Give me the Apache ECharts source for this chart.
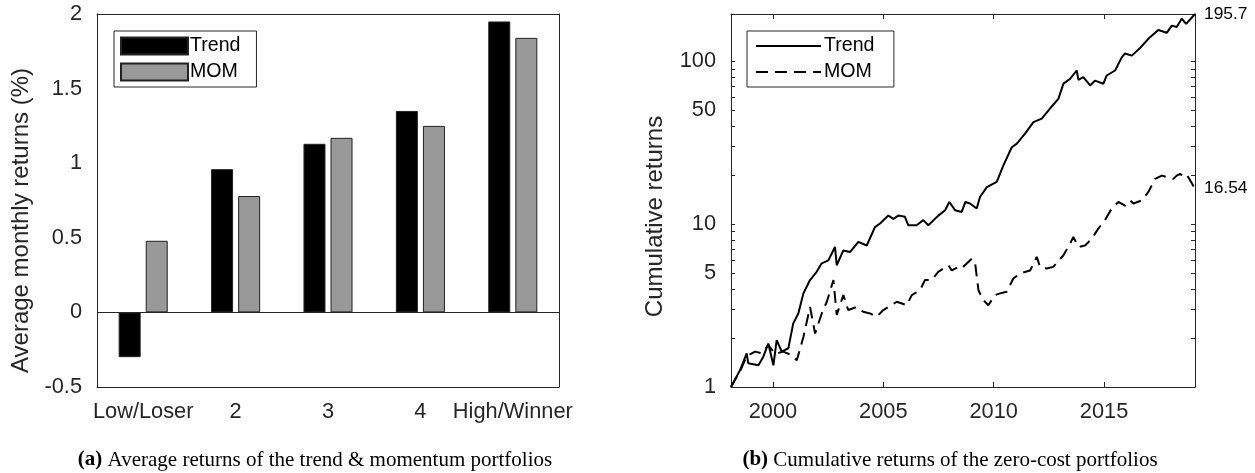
<!DOCTYPE html>
<html><head><meta charset="utf-8">
<script src="https://cdn.jsdelivr.net/npm/echarts@6.0.0/dist/echarts.min.js"></script>
<style>html,body{margin:0;padding:0;background:#fff}#c{width:1255px;height:473px}</style>
</head><body><div id="c"></div>
<script>
const categories = ['Low/Loser', '2', '3', '4', 'High/Winner'];
const trendAvg = [-0.30, 0.96, 1.13, 1.35, 1.95];
const momAvg = [0.48, 0.78, 1.17, 1.25, 1.84];

const trendYears = [1998.1,1998.51,1998.81,1998.88,1999.34,1999.56,1999.79,2000.02,2000.17,2000.40,2000.70,2000.77,2000.92,2001.15,2001.38,2001.68,2001.98,2002.21,2002.51,2002.81,2002.89,2003.19,2003.49,2003.87,2004.25,2004.62,2004.85,2005.23,2005.45,2005.68,2005.98,2006.13,2006.51,2006.81,2007.04,2007.49,2007.80,2007.99,2008.25,2008.55,2008.72,2008.93,2009.23,2009.38,2009.69,2010.14,2010.44,2010.82,2011.05,2011.42,2011.80,2012.18,2012.55,2012.93,2013.16,2013.46,2013.76,2013.84,2014.06,2014.37,2014.59,2014.97,2015.12,2015.50,2015.80,2015.95,2016.26,2016.63,2017.08,2017.46,2017.84,2018.07,2018.29,2018.52,2018.72,2019.05,2019.12];
const trendCum = [1.00,1.27,1.61,1.40,1.36,1.53,1.85,1.36,1.94,1.65,1.73,1.94,2.46,2.83,3.76,4.54,5.10,5.75,6.00,7.25,5.60,6.90,6.75,7.80,7.40,9.60,10.1,11.3,10.8,11.3,11.1,9.85,9.85,10.6,9.85,11.3,12.2,13.7,12.2,11.9,13.7,13.4,12.5,14.7,16.9,18.2,23.0,29.7,31.3,36.0,42.4,44.5,51.4,58.9,73.1,78.2,88.0,77.0,80.1,71.2,76.3,73.0,82.0,88.0,106,112,108.6,121,141,156,150,166,163,183,170,191,195.7];

const momYears = [1998.1,1998.51,1998.81,1999.19,1999.49,1999.79,2000.10,2000.46,2000.85,2001.08,2001.38,2001.68,2001.91,2002.21,2002.44,2002.74,2002.89,2003.19,2003.41,2003.79,2004.09,2004.40,2004.70,2005.00,2005.61,2006.06,2006.29,2006.66,2006.89,2007.19,2007.49,2007.95,2008.10,2008.40,2008.55,2009.01,2009.16,2009.31,2009.53,2009.76,2010.06,2010.29,2010.59,2010.89,2011.19,2011.65,2011.95,2012.10,2012.40,2012.70,2013.16,2013.38,2013.61,2013.84,2014.14,2014.44,2014.74,2015.04,2015.35,2015.65,2015.95,2016.18,2016.33,2016.71,2017.01,2017.31,2017.62,2017.84,2018.14,2018.29,2018.44,2018.62,2018.74,2018.90,2019.12];
const momCum = [1.00,1.25,1.55,1.65,1.61,1.81,1.60,1.65,1.57,1.46,2.03,3.10,2.13,2.83,3.34,4.54,2.77,3.67,2.97,3.10,2.90,2.83,2.70,2.97,3.34,3.18,3.67,3.93,4.54,4.54,5.10,5.60,5.20,5.47,5.35,6.15,5.75,3.93,3.42,3.18,3.67,3.76,3.85,4.64,4.98,5.20,6.30,5.47,5.35,5.47,6.45,7.25,8.34,7.25,7.40,8.15,9.40,10.6,12.5,13.7,13.0,14.0,13.4,14.0,15.8,19.0,19.9,19.5,19.0,19.9,20.4,19.7,20.2,18.6,16.54];

const yearTicks = [2000, 2005, 2010, 2015];
const logLabelTicks = [1, 5, 10, 50, 100];
const logTicks = [1,2,3,4,5,6,7,8,9,10,20,30,40,50,60,70,80,90,100];
const captionA = 'Average returns of the trend & momentum portfolios';
const captionB = 'Cumulative returns of the zero-cost portfolios';

const INK = '#262626';
const FONT = '"Liberation Sans", Arial, sans-serif';
const SERIF = '"Liberation Serif", "Times New Roman", serif';
const TICK_FS = 21.8;
const endVals = [momCum[momCum.length - 1], trendCum[trendCum.length - 1]];

const chart = echarts.init(document.getElementById('c'), null, {renderer: 'canvas'});

const axisLine = {show: true, onZero: false, lineStyle: {color: INK, width: 1}};
const lbl = {color: INK, fontSize: TICK_FS, fontFamily: FONT};
const tick = (len, extra) => Object.assign({inside: true, length: len, lineStyle: {color: INK}}, extra || {});

chart.setOption({
  animation: false,
  backgroundColor: '#fff',
  textStyle: {fontFamily: FONT},
  grid: [
    {left: 97, top: 14, width: 462, height: 373},
    {left: 731, top: 14, width: 464, height: 373}
  ],
  xAxis: [
    {type: 'category', gridIndex: 0, position: 'bottom', data: categories, boundaryGap: true,
     axisLine, axisTick: tick(5, {alignWithLabel: true, interval: 0}),
     axisLabel: Object.assign({margin: 14, interval: 0}, lbl), splitLine: {show: false}},
    {type: 'category', gridIndex: 0, position: 'top', data: categories, boundaryGap: true,
     axisLine, axisTick: tick(5, {alignWithLabel: true, interval: 0}),
     axisLabel: {show: false}, splitLine: {show: false}},
    {type: 'value', gridIndex: 1, position: 'bottom', min: 1998.1, max: 2019.12,
     axisLine, splitLine: {show: false},
     axisTick: tick(5, {customValues: yearTicks}),
     axisLabel: Object.assign({margin: 14, customValues: yearTicks, formatter: v => String(Math.round(v))}, lbl)},
    {type: 'value', gridIndex: 1, position: 'top', min: 1998.1, max: 2019.12,
     axisLine, splitLine: {show: false},
     axisTick: tick(5, {customValues: yearTicks}),
     axisLabel: {show: false}}
  ],
  yAxis: [
    {type: 'value', gridIndex: 0, position: 'left', min: -0.5, max: 2, interval: 0.5,
     axisLine, splitLine: {show: false},
     axisTick: tick(5),
     axisLabel: Object.assign({margin: 15}, lbl),
     name: 'Average monthly returns (%)', nameLocation: 'middle', nameGap: 64,
     nameTextStyle: {color: INK, fontSize: 24, fontFamily: FONT, padding: [0, 40, 0, 0]}},
    {type: 'value', gridIndex: 0, position: 'right', min: -0.5, max: 2, interval: 0.5,
     axisLine, splitLine: {show: false},
     axisTick: tick(5),
     axisLabel: {show: false}},
    {type: 'log', logBase: 10, gridIndex: 1, position: 'left', min: 1, max: 195.7,
     axisLine, splitLine: {show: false},
     axisTick: tick(4, {customValues: logTicks}),
     axisLabel: Object.assign({margin: 15, customValues: logLabelTicks, formatter: v => String(Math.round(v))}, lbl),
     name: 'Cumulative returns', nameLocation: 'middle', nameGap: 64,
     nameTextStyle: {color: INK, fontSize: 24, fontFamily: FONT, padding: [0, 32, 0, 0]}},
    {type: 'log', logBase: 10, gridIndex: 1, position: 'right', min: 1, max: 195.7,
     axisLine, splitLine: {show: false},
     axisTick: tick(4, {customValues: logTicks}),
     axisLabel: {color: '#000', fontSize: 17.4, fontFamily: FONT, margin: 9, customValues: endVals,
       formatter: v => {
         let best = endVals[0];
         endVals.forEach(e => { if (Math.abs(Math.log(e) - Math.log(v)) < Math.abs(Math.log(best) - Math.log(v))) best = e; });
         return String(best);
       }}}
  ],
  legend: [
    {data: ['Trend', 'MOM'], left: 114, top: 31, orient: 'vertical', icon: 'rect',
     itemWidth: 67, itemHeight: 17, itemGap: 6, padding: [5, 16, 5, 6],
     borderColor: INK, borderWidth: 1, backgroundColor: '#fff',
     textStyle: {color: '#000', fontSize: 19.6, fontFamily: FONT, padding: [0, 0, 0, -3]}, selectedMode: false},
    {data: ['Trend ', 'MOM '], left: 747, top: 31, orient: 'vertical',
     itemWidth: 65, itemHeight: 17, itemGap: 6, padding: [5, 14, 5, 8],
     itemStyle: {color: 'transparent', borderColor: 'transparent', borderWidth: 0, opacity: 0},
     borderColor: INK, borderWidth: 1, backgroundColor: '#fff',
     textStyle: {color: '#000', fontSize: 19.6, fontFamily: FONT, padding: [0, 0, 0, -2]}, selectedMode: false}
  ],
  series: [
    {name: 'Trend', type: 'bar', xAxisIndex: 0, yAxisIndex: 0, data: trendAvg,
     barWidth: 22, barGap: '23%',
     itemStyle: {color: '#000', borderColor: '#222', borderWidth: 1},
     markLine: {silent: true, symbol: 'none', label: {show: false},
       lineStyle: {color: INK, type: 'solid', width: 1}, data: [{yAxis: 0}]}},
    {name: 'MOM', type: 'bar', xAxisIndex: 0, yAxisIndex: 0, data: momAvg,
     barWidth: 22, barGap: '23%',
     itemStyle: {color: '#999999', borderColor: '#222', borderWidth: 1}},
    {name: 'Trend ', type: 'line', xAxisIndex: 2, yAxisIndex: 2, symbol: 'none', showSymbol: false,
     data: trendYears.map((y, i) => [y, trendCum[i]]),
     lineStyle: {color: '#000', width: 2}, itemStyle: {color: '#000'}},
    {name: 'MOM ', type: 'line', xAxisIndex: 2, yAxisIndex: 2, symbol: 'none', showSymbol: false,
     data: momYears.map((y, i) => [y, momCum[i]]),
     lineStyle: {color: '#000', width: 2, type: [12, 7]}, itemStyle: {color: '#000'}}
  ],
  graphic: [
    {type: 'text', x: 315, y: 460,
     style: {text: '{b|(a)} ' + captionA, align: 'center', verticalAlign: 'middle',
       fontFamily: SERIF, fontSize: 21, fill: '#000',
       rich: {b: {fontWeight: 'bold', fontFamily: SERIF, fontSize: 21}}}},
    {type: 'text', x: 950, y: 460,
     style: {text: '{b|(b)} ' + captionB, align: 'center', verticalAlign: 'middle',
       fontFamily: SERIF, fontSize: 21, fill: '#000',
       rich: {b: {fontWeight: 'bold', fontFamily: SERIF, fontSize: 21}}}}
  ]
});
</script>
</body></html>
